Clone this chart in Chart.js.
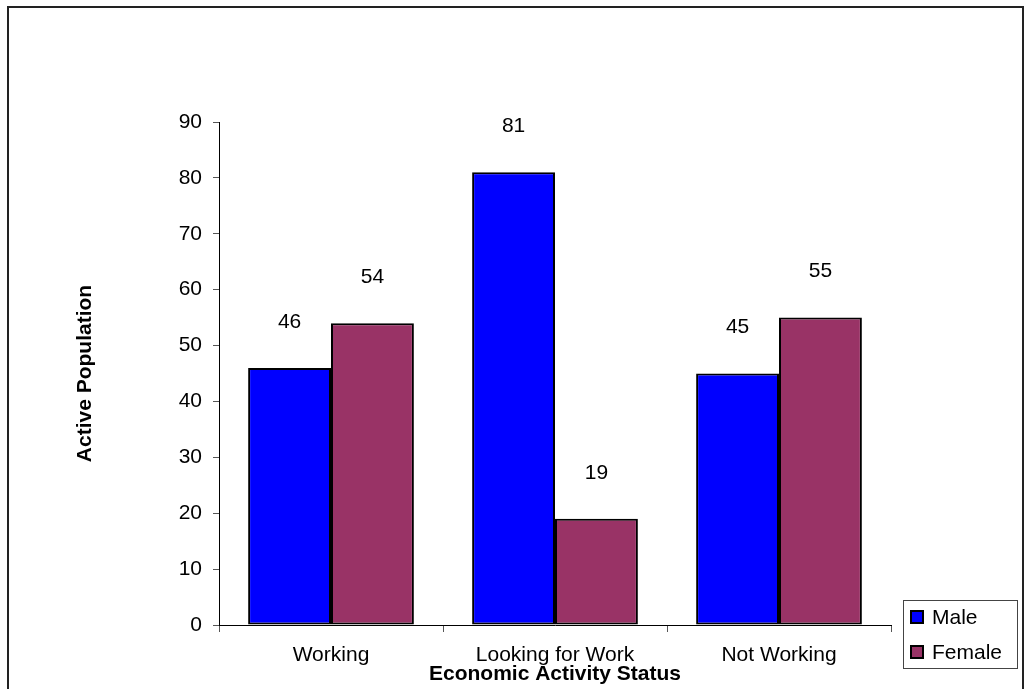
<!DOCTYPE html>
<html lang="en">
<head>
  <meta charset="UTF-8">
  <title>Economic Activity Status</title>
  <script src="https://cdn.jsdelivr.net/npm/chart.js"></script>
  <style>
    body {
      margin: 0;
      background: white;
    }
    canvas {
      display: block;
    }
  </style>
</head>
<body>

<canvas id="statusChart" width="1031" height="689"></canvas>

<script>
const categories = ["Working", "Looking for Work", "Not Working"];
const seriesNames = ["Male", "Female"];
const maleValues = [46, 81, 45];
const femaleValues = [54, 19, 55];
const yMin = 0, yMax = 90, yStep = 10;

const FONT = "Arial, 'Liberation Sans', sans-serif";
const FONT_SIZE = 21;

// frame round the whole picture
const framePlugin = {
  id: "frame",
  beforeDraw(chart) {
    const ctx = chart.ctx;
    ctx.save();
    ctx.fillStyle = "white";
    ctx.fillRect(0, 0, chart.width, chart.height);
    ctx.strokeStyle = "#222";
    ctx.lineWidth = 2;
    ctx.strokeRect(8, 7, 1015, 700);
    ctx.restore();
  }
};

// value written above each bar
const valueLabels = {
  id: "valueLabels",
  afterDatasetsDraw(chart) {
    const ctx = chart.ctx;
    ctx.save();
    ctx.font = FONT_SIZE + "px " + FONT;
    ctx.fillStyle = "#000";
    ctx.textAlign = "center";
    ctx.textBaseline = "middle";
    chart.data.datasets.forEach((ds, i) => {
      chart.getDatasetMeta(i).data.forEach((bar, j) => {
        ctx.fillText(ds.data[j], bar.x, bar.y - 46);
      });
    });
    ctx.restore();
  }
};

// boxed legend in the lower right corner
const boxLegend = {
  id: "boxLegend",
  afterDraw(chart) {
    const ctx = chart.ctx;
    ctx.save();
    ctx.strokeStyle = "#444";
    ctx.lineWidth = 1;
    ctx.strokeRect(903.5, 600.5, 114, 68);
    ctx.font = FONT_SIZE + "px " + FONT;
    ctx.textBaseline = "middle";
    ctx.textAlign = "left";
    chart.data.datasets.forEach((ds, i) => {
      const cy = 617 + i * 35;
      ctx.fillStyle = ds.backgroundColor;
      ctx.fillRect(911, cy - 6, 12, 12);
      ctx.strokeStyle = "#000";
      ctx.lineWidth = 2;
      ctx.strokeRect(911, cy - 6, 12, 12);
      ctx.fillStyle = "#000";
      ctx.fillText(ds.label, 932, cy + 1);
    });
    ctx.restore();
  }
};

const ctx = document.getElementById("statusChart").getContext("2d");
new Chart(ctx, {
  type: "bar",
  data: {
    labels: categories,
    datasets: [
      {
        label: seriesNames[0],
        data: maleValues,
        backgroundColor: "#0000FF",
        borderColor: "#000",
        borderWidth: 2,
        borderSkipped: false
      },
      {
        label: seriesNames[1],
        data: femaleValues,
        backgroundColor: "#993366",
        borderColor: "#000",
        borderWidth: 2,
        borderSkipped: false
      }
    ]
  },
  options: {
    responsive: false,
    animation: false,
    categoryPercentage: 0.74,
    barPercentage: 1,
    layout: {
      padding: { left: 0, top: 122, right: 140, bottom: 0 }
    },
    plugins: {
      legend: { display: false },
      tooltip: { enabled: false }
    },
    scales: {
      x: {
        grid: {
          offset: true,
          drawOnChartArea: false,
          drawTicks: true,
          tickLength: 7,
          color: "#555"
        },
        border: { display: true, color: "#000", width: 1 },
        ticks: {
          color: "#000",
          padding: 11,
          font: { family: FONT, size: FONT_SIZE }
        },
        title: {
          display: true,
          text: "Economic Activity Status",
          color: "#000",
          font: { family: FONT, size: FONT_SIZE, weight: "bold" },
          padding: { top: 0, bottom: 2 }
        },
        afterFit(scale) {
          scale.height = 64;
        }
      },
      y: {
        min: yMin,
        max: yMax,
        grid: {
          drawOnChartArea: false,
          drawTicks: true,
          tickLength: 6,
          color: "#555"
        },
        border: { display: true, color: "#000", width: 1 },
        ticks: {
          stepSize: yStep,
          color: "#000",
          padding: 11,
          font: { family: FONT, size: FONT_SIZE }
        },
        title: {
          display: true,
          text: "Active Population",
          color: "#000",
          font: { family: FONT, size: FONT_SIZE, weight: "bold" },
          padding: { top: 73, bottom: 0 }
        },
        afterFit(scale) {
          scale.width = 219;
        }
      }
    }
  },
  plugins: [framePlugin, valueLabels, boxLegend]
});
</script>

</body>
</html>
